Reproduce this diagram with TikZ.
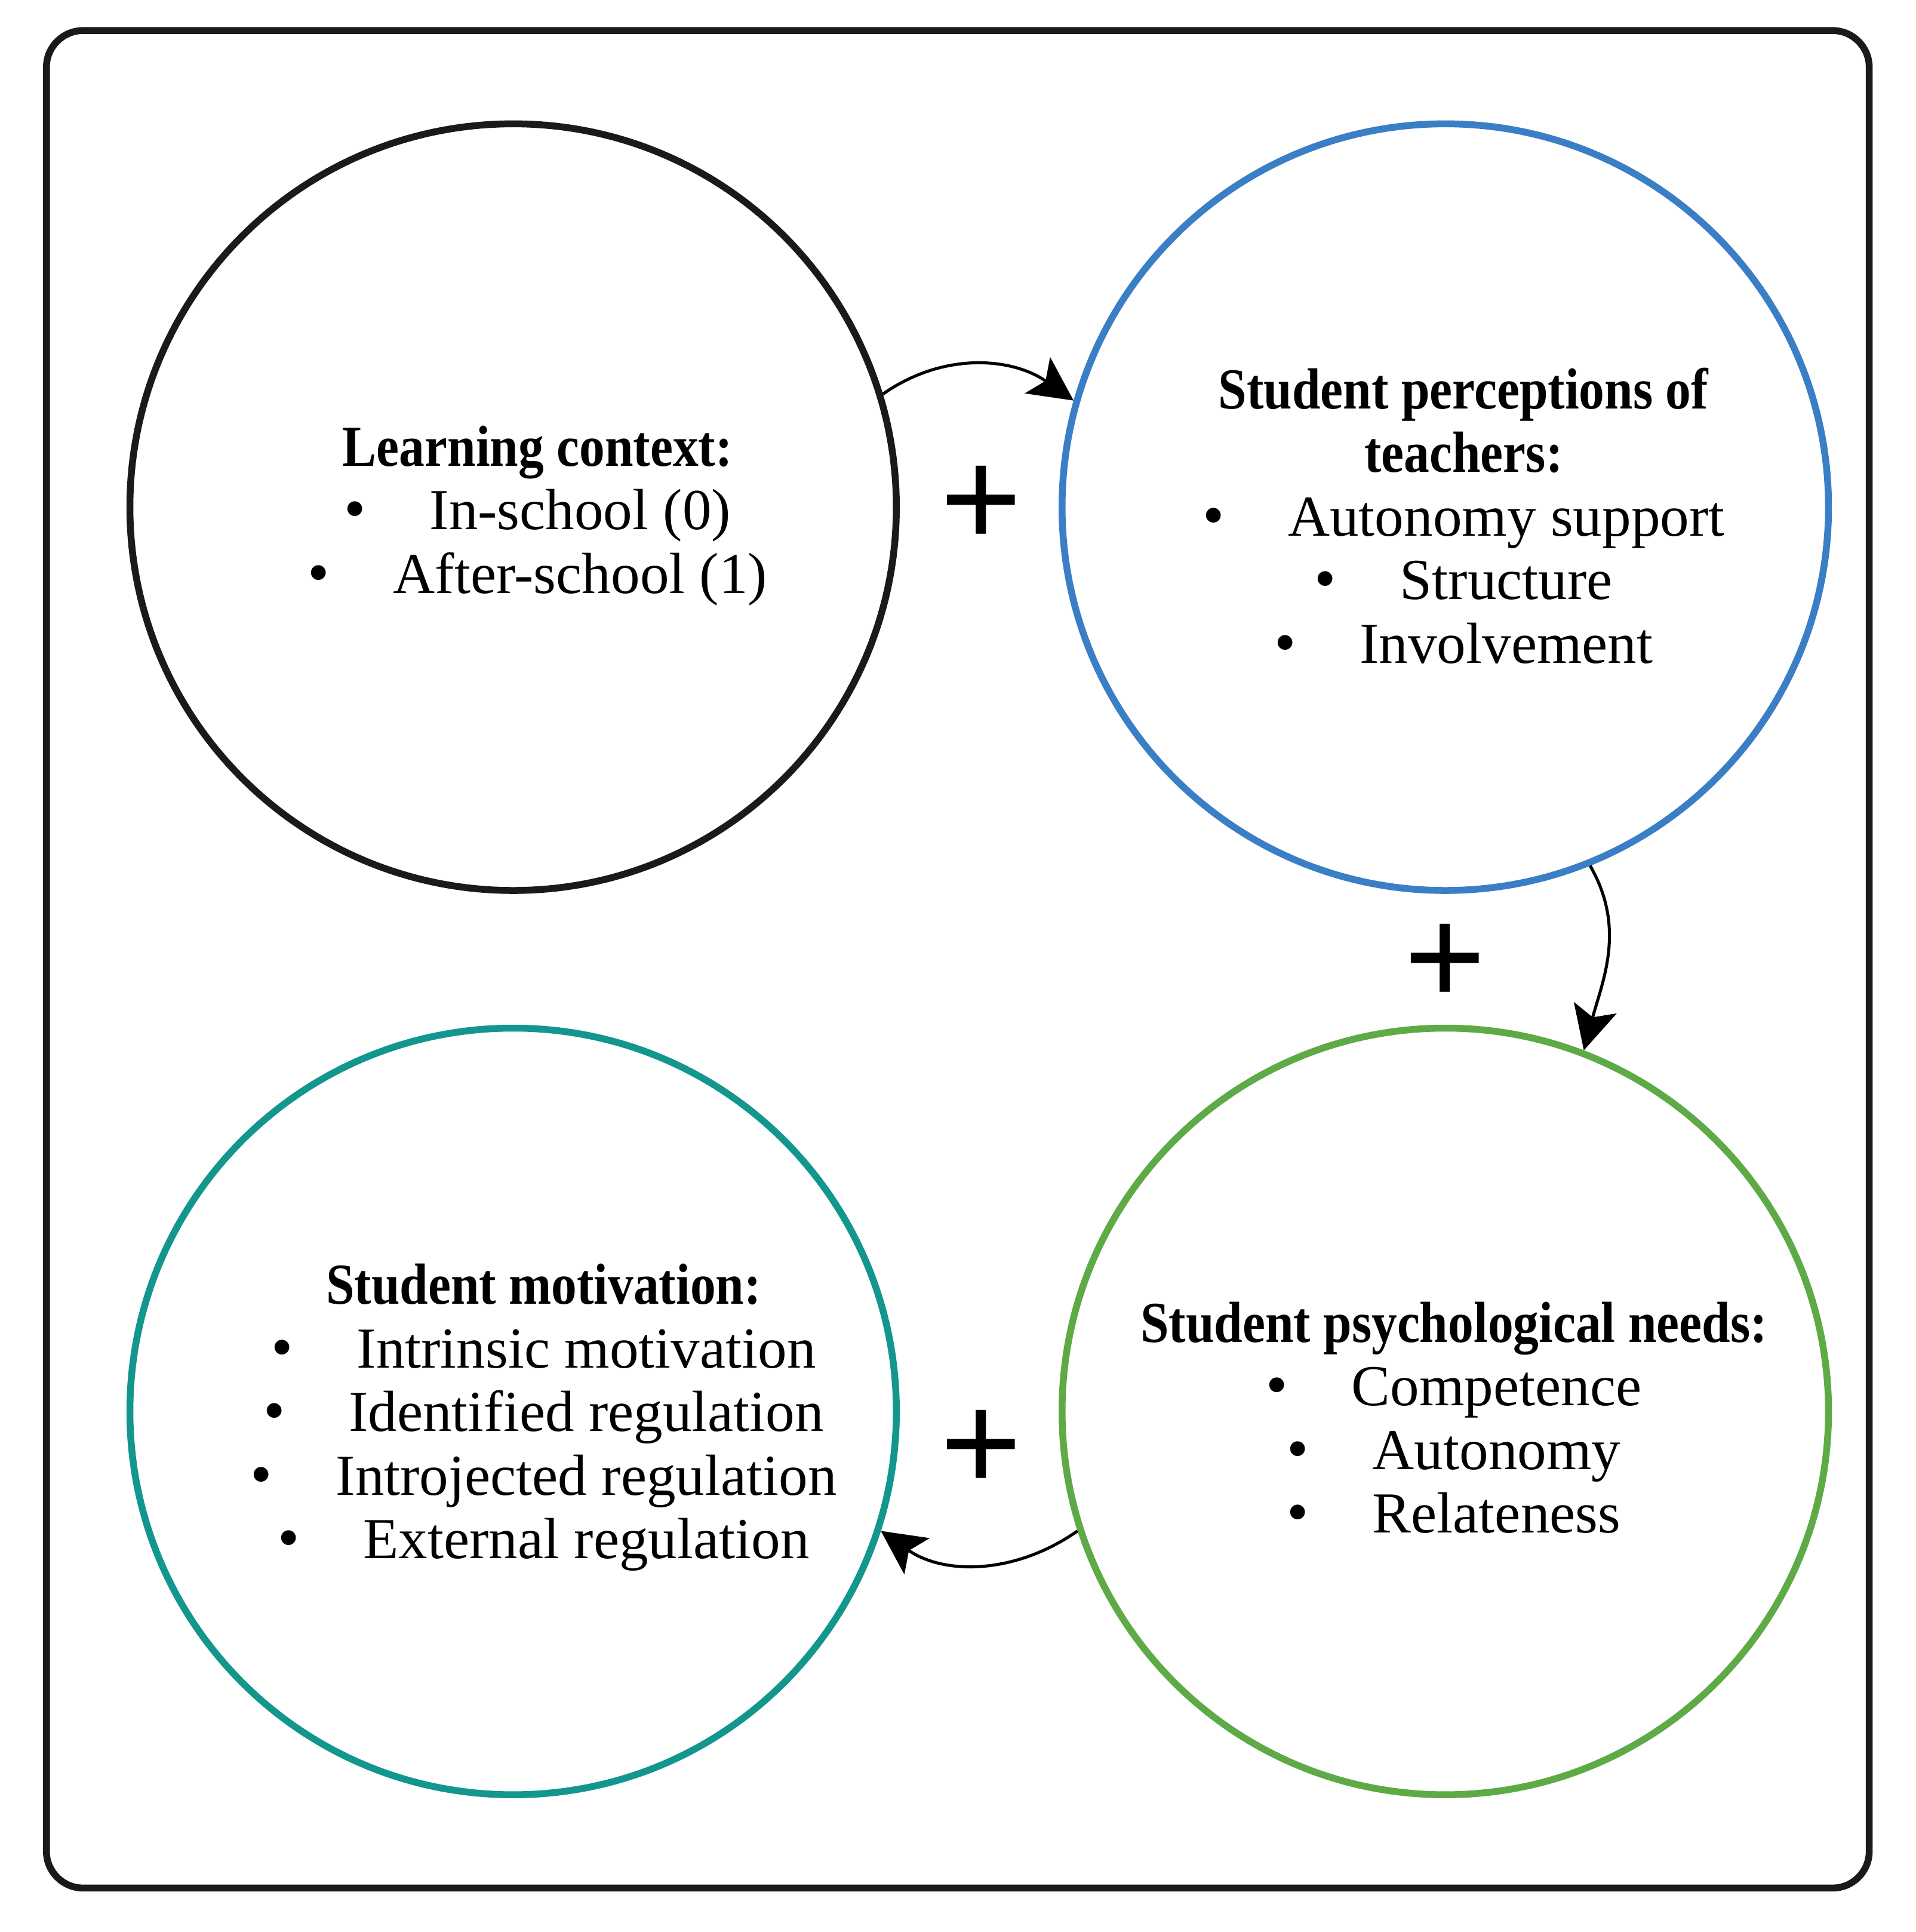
\documentclass[tikz,border=0pt]{standalone}
\usepackage{fontspec}
\setmainfont{Liberation Serif}
\usetikzlibrary{arrows.meta}
\tikzset{
  bubble/.style={circle,draw=#1,line width=1.6pt,minimum size=6.27cm,inner sep=0pt},
  bubtext/.style={align=center,font=\fontsize{13.5}{14.8}\selectfont},
  plus/.style={font=\fontsize{34}{34}\selectfont\bfseries},
  link/.style={line width=0.7pt,-{Stealth[length=0.36cm,width=0.36cm,inset=0.08cm]}}
}
\definecolor{ctxblack}{HTML}{1A1A1A}
\definecolor{percblue}{HTML}{3A7FC6}
\definecolor{needgreen}{HTML}{5EAA46}
\definecolor{motteal}{HTML}{12968E}
\newcommand{\bul}{{\Large\textbullet}\hspace{1.1em}}
\newcommand{\hd}[1]{\scalebox{0.88}[1]{\textbf{#1}}}
\begin{document}
\begin{tikzpicture}[x=0.01cm,y=-0.01cm]
      \useasboundingbox (0,0) rectangle (1568,1581);
      \draw[line width=1.6pt,rounded corners=0.3cm,ctxblack] (38,25) rectangle (1530,1545);
      \node[bubble=ctxblack] (ctx) at (420,415) {};
      \node[bubble=percblue] (perc) at (1183,415) {};
      \node[bubble=needgreen] (need) at (1183,1155) {};
      \node[bubble=motteal] (mot) at (420,1155) {};
      \node[bubtext] (ctxt) at (440,422) {\hd{Learning context:}\\ \bul In-school (0)\\ \bul After-school (1)};
      \node[bubtext] (perct) at (1198,422) {\hd{Student perceptions of}\\ \hd{teachers:}\\ \bul Autonomy support\\ \bul Structure\\ \bul Involvement};
      \node[bubtext] (needt) at (1190,1160) {\hd{Student psychological needs:}\\ \bul Competence\\ \bul Autonomy\\ \bul Relateness};
      \node[bubtext] (mott) at (445,1160) {\hd{Student motivation:}\\ \bul Intrinsic motivation\\ \bul Identified regulation\\ \bul Introjected regulation\\ \bul External regulation};
      \node[plus] (p1) at (803,415) {+};
      \node[plus] (p2) at (1183,790) {+};
      \node[plus] (p3) at (803,1188) {+};
      \draw[link] (ctx.17) to[out=35,in=145] (perc.164);
      \draw[link] (perc.-68) to[out=-60,in=75] (need.69);
      \draw[link] (need.198) to[out=-145,in=-35] (mot.-18);
\end{tikzpicture}
\end{document}
